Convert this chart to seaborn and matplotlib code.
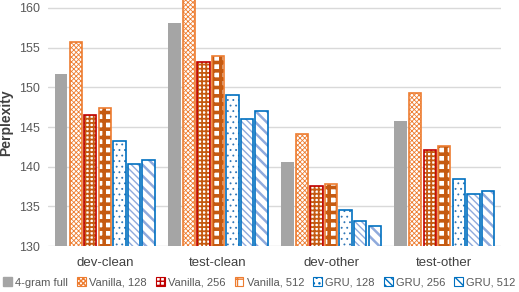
import pandas as pd
import matplotlib.pyplot as plt
import seaborn as sns
from matplotlib.patches import Patch

sns.set_theme(style="white")
plt.rcParams['font.family'] = ['Liberation Sans', 'DejaVu Sans']

# Datos
subsets = ["dev-clean", "test-clean", "dev-other", "test-other"]
models = ["4-gram full", "Vanilla, 128", "Vanilla, 256", "Vanilla, 512",
          "GRU, 128", "GRU, 256", "GRU, 512"]
ngram_full = [151.7, 158.1, 140.6, 145.8]
vanilla_128 = [155.7, 161.3, 144.1, 149.3]
vanilla_256 = [146.5, 153.2, 137.6, 142.1]
vanilla_512 = [147.4, 153.9, 137.8, 142.6]
gru_128 = [143.2, 149.0, 134.5, 138.4]
gru_256 = [140.3, 146.0, 133.2, 136.6]
gru_512 = [140.8, 147.0, 132.6, 136.9]

series = [ngram_full, vanilla_128, vanilla_256, vanilla_512, gru_128, gru_256, gru_512]
df = pd.DataFrame([(s, m, v) for m, vals in zip(models, series) for s, v in zip(subsets, vals)],
                  columns=["subset", "model", "perplexity"])

# Estilos de cada serie: (relleno, color trama, trama, grosor trama, borde)
estilos = [
    ("#A5A5A5", None, "", 0, None),
    ("white", "#ED7D31", "xxxxxxx", 0.6, "#ED7D31"),
    ("white", "#C55A11", "++++", 1.3, "#C00000"),
    ("white", "#C55A11", "++", 2.6, "#ED7D31"),
    ("white", "#2E75B6", "...", 0.6, "#0070C0"),
    ("white", "#8FAADC", "\\\\\\\\\\", 1.0, "#0070C0"),
    ("white", "#8FAADC", "\\\\\\", 1.8, "#0070C0"),
]
bordes = [e[4] if e[4] else e[0] for e in estilos]

fig, ax = plt.subplots(figsize=(5.19, 2.92), dpi=100)
sns.barplot(data=df, x="subset", y="perplexity", hue="model", hue_order=models,
            palette=["#A5A5A5"] * 7, width=0.9, gap=0.15, legend=False, ax=ax, zorder=2)

for cont, (fc, hc, hatch, hlw, ec) in zip(ax.containers, estilos):
    for bar in cont:
        bar.set_facecolor(fc)
        bar.set_linewidth(0)
        if hatch:
            bar.set_hatch(hatch)
            bar.set_edgecolor(hc)
            bar.set_hatch_linewidth(hlw)

# Bordes encima de la trama
sns.barplot(data=df, x="subset", y="perplexity", hue="model", hue_order=models,
            palette=bordes, width=0.9, gap=0.15, fill=False, linewidth=1.2,
            legend=False, ax=ax, zorder=3)
for bar in ax.containers[7]:
    bar.set_linewidth(0)

ax.set_xticks(range(len(subsets)), subsets)
ax.set_ylim(130, 161)
ax.set_yticks([130, 135, 140, 145, 150, 155, 160])
ax.yaxis.grid(True, color="#D9D9D9", linewidth=1)
ax.set_axisbelow(True)
for sp in ax.spines.values():
    sp.set_visible(False)
ax.tick_params(axis="y", labelsize=9, colors="#595959", length=0, pad=6)
ax.tick_params(axis="x", labelsize=9.5, colors="#404040", length=0, pad=8)
ax.set_xlabel("")
ax.set_ylabel("Perplexity", fontsize=10, fontweight="bold", color="#404040", labelpad=4)

handles = []
for fc, hc, hatch, hlw, ec in estilos:
    if hatch:
        handles.append(Patch(facecolor=fc, edgecolor=ec, hatch=hatch, linewidth=0.8))
    else:
        handles.append(Patch(facecolor=fc, edgecolor=fc))
fig.legend(handles, models, loc="lower center", ncol=7, frameon=False, fontsize=8,
           handlelength=0.8, handleheight=0.8, handletextpad=0.3, columnspacing=0.8,
           borderaxespad=0.0, labelcolor="#595959")

plt.subplots_adjust(left=0.093, right=0.965, top=1.0, bottom=0.157)
plt.savefig("out.png", dpi=100)
